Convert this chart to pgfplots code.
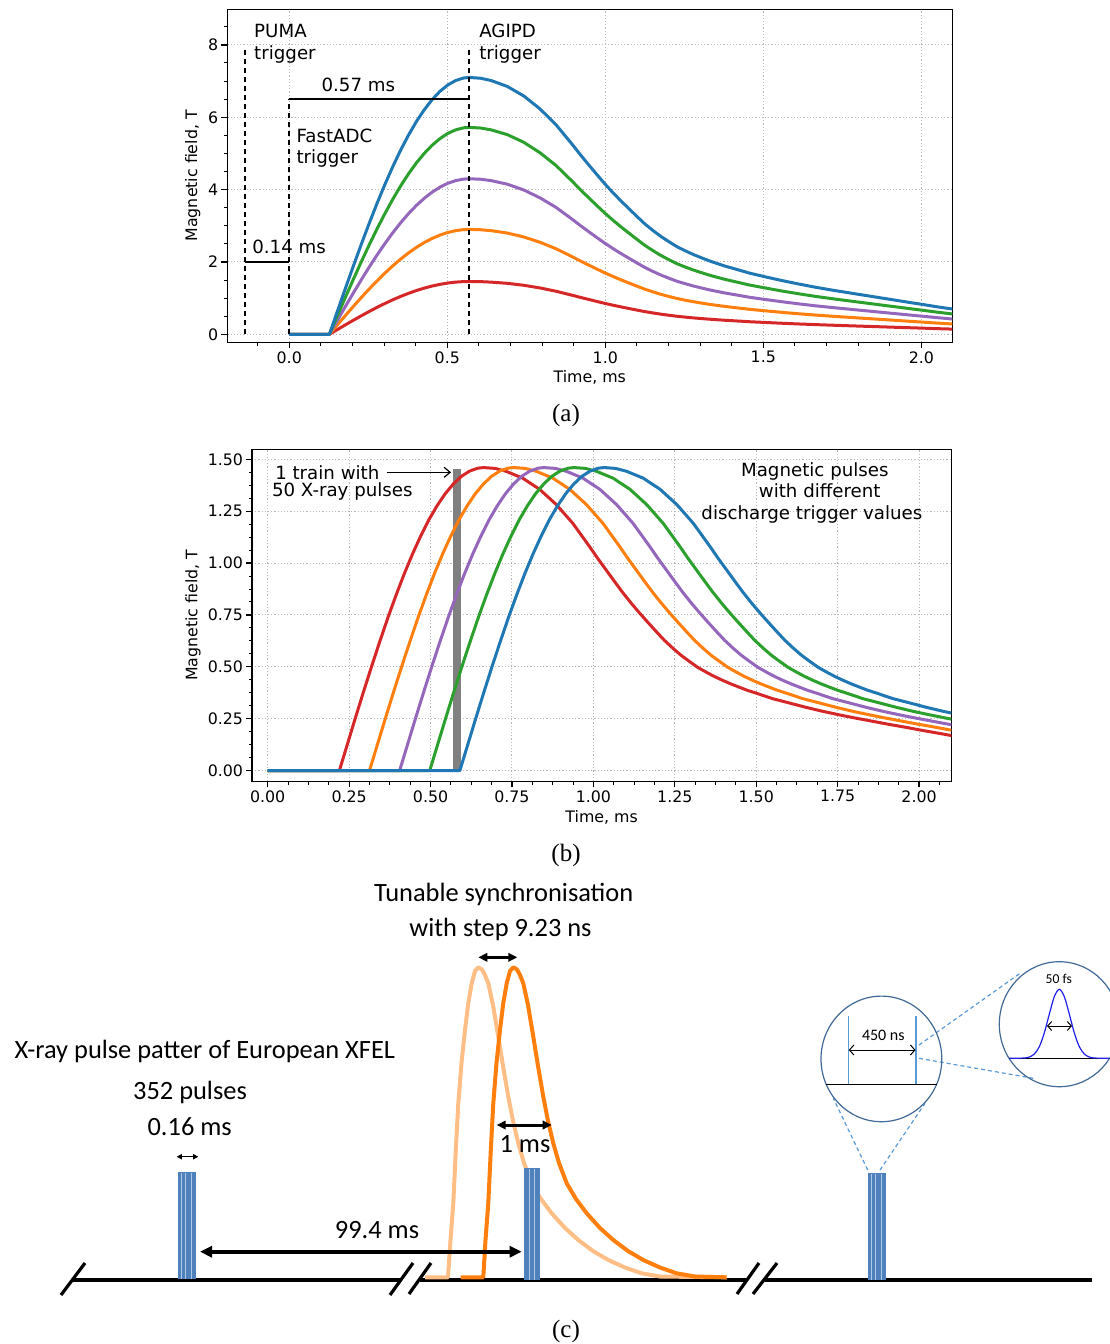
\documentclass[border=0pt]{standalone}
\usepackage{pgfplots}
\usepackage{pgfplotstable}
\pgfplotsset{compat=1.18}
\usetikzlibrary{arrows.meta}
\usepackage{fontspec}
\setmainfont{DejaVu Sans}
\newfontfamily\calfont{Carlito}
\newfontfamily\serfont{Liberation Serif}

\definecolor{mB}{HTML}{1F77B4}
\definecolor{mO}{HTML}{FF7F0E}
\definecolor{mG}{HTML}{2CA02C}
\definecolor{mR}{HTML}{D62728}
\definecolor{mP}{HTML}{9467BD}
\definecolor{dOr}{RGB}{255,127,14}
\definecolor{lOr}{RGB}{255,190,133}
\definecolor{barB}{RGB}{79,129,189}
\definecolor{barL}{RGB}{175,200,230}
\definecolor{circ}{RGB}{65,105,150}
\definecolor{dashB}{RGB}{91,155,213}
\definecolor{gaus}{RGB}{30,30,235}

\pgfplotstableread{
t B G P O R
0 0 0 0 0 0
0.127 0 0 0 0 0
0.152 0.628 0.506 0.381 0.257 0.129
0.177 1.252 1.009 0.759 0.512 0.258
0.202 1.866 1.503 1.130 0.762 0.384
0.227 2.465 1.986 1.493 1.007 0.507
0.252 3.045 2.453 1.844 1.244 0.626
0.277 3.601 2.901 2.181 1.471 0.741
0.302 4.129 3.326 2.500 1.686 0.849
0.327 4.624 3.725 2.800 1.888 0.951
0.352 5.083 4.095 3.078 2.076 1.045
0.377 5.501 4.432 3.332 2.247 1.131
0.402 5.877 4.735 3.560 2.401 1.209
0.427 6.205 4.999 3.758 2.535 1.276
0.452 6.487 5.226 3.929 2.650 1.334
0.477 6.717 5.411 4.068 2.743 1.381
0.502 6.895 5.555 4.176 2.816 1.418
0.527 7.017 5.653 4.250 2.866 1.443
0.552 7.086 5.709 4.291 2.894 1.457
0.570 7.100 5.720 4.300 2.900 1.460
0.605 7.079 5.703 4.287 2.891 1.456
0.639 7.015 5.651 4.248 2.865 1.442
0.690 6.852 5.520 4.150 2.799 1.409
0.742 6.589 5.308 3.990 2.691 1.355
0.793 6.234 5.022 3.775 2.546 1.282
0.844 5.794 4.668 3.509 2.366 1.191
0.895 5.254 4.233 3.182 2.146 1.080
0.920 4.977 4.010 3.014 2.033 1.023
0.946 4.700 3.787 2.847 1.920 0.967
0.972 4.430 3.569 2.683 1.810 0.911
0.997 4.175 3.363 2.528 1.705 0.858
1.023 3.926 3.163 2.378 1.604 0.807
1.049 3.692 2.974 2.236 1.508 0.759
1.074 3.479 2.803 2.107 1.421 0.715
1.100 3.259 2.625 1.974 1.331 0.670
1.125 3.053 2.460 1.849 1.247 0.628
1.151 2.868 2.311 1.737 1.172 0.590
1.176 2.705 2.179 1.638 1.105 0.556
1.202 2.556 2.059 1.548 1.044 0.526
1.227 2.421 1.951 1.466 0.989 0.498
1.253 2.308 1.859 1.398 0.943 0.475
1.278 2.208 1.779 1.337 0.902 0.454
1.304 2.116 1.705 1.281 0.864 0.435
1.329 2.031 1.636 1.230 0.829 0.418
1.355 1.953 1.573 1.183 0.798 0.402
1.380 1.882 1.516 1.140 0.769 0.387
1.406 1.818 1.464 1.101 0.742 0.374
1.457 1.690 1.361 1.023 0.690 0.347
1.509 1.583 1.276 0.959 0.647 0.326
1.560 1.484 1.195 0.899 0.606 0.305
1.611 1.392 1.121 0.843 0.568 0.286
1.662 1.306 1.052 0.791 0.534 0.269
1.713 1.228 0.990 0.744 0.502 0.253
1.764 1.157 0.932 0.701 0.473 0.238
1.815 1.086 0.875 0.658 0.444 0.223
1.866 1.015 0.818 0.615 0.415 0.209
1.917 0.944 0.761 0.572 0.386 0.194
1.968 0.873 0.704 0.529 0.357 0.180
2.000 0.831 0.669 0.503 0.339 0.171
2.050 0.760 0.612 0.460 0.310 0.156
2.100 0.696 0.561 0.421 0.284 0.143
}\tabA

\pgfplotstableread{
tr to tp tg tb y
0 0 0 0 0 0
0.22 0.3125 0.405 0.4975 0.59 0
0.245 0.3375 0.43 0.5225 0.615 0.129
0.27 0.3625 0.455 0.5475 0.64 0.258
0.295 0.3875 0.48 0.5725 0.665 0.384
0.32 0.4125 0.505 0.5975 0.69 0.507
0.345 0.4375 0.53 0.6225 0.715 0.626
0.37 0.4625 0.555 0.6475 0.74 0.741
0.395 0.4875 0.58 0.6725 0.765 0.849
0.42 0.5125 0.605 0.6975 0.79 0.951
0.445 0.5375 0.63 0.7225 0.815 1.045
0.47 0.5625 0.655 0.7475 0.84 1.131
0.495 0.5875 0.68 0.7725 0.865 1.209
0.52 0.6125 0.705 0.7975 0.89 1.276
0.545 0.6375 0.73 0.8225 0.915 1.334
0.57 0.6625 0.755 0.8475 0.94 1.381
0.595 0.6875 0.78 0.8725 0.965 1.418
0.62 0.7125 0.805 0.8975 0.99 1.443
0.645 0.7375 0.83 0.9225 1.015 1.457
0.663 0.7555 0.848 0.9405 1.033 1.460
0.698 0.7905 0.883 0.9755 1.068 1.456
0.732 0.8245 0.917 1.0095 1.102 1.442
0.783 0.8755 0.968 1.0605 1.153 1.409
0.835 0.9275 1.020 1.1125 1.205 1.355
0.886 0.9785 1.071 1.1635 1.256 1.282
0.937 1.0295 1.122 1.2145 1.307 1.191
0.988 1.0805 1.173 1.2655 1.358 1.080
1.013 1.1055 1.198 1.2905 1.383 1.023
1.039 1.1315 1.224 1.3165 1.409 0.967
1.065 1.1575 1.250 1.3425 1.435 0.911
1.090 1.1825 1.275 1.3675 1.460 0.858
1.116 1.2085 1.301 1.3935 1.486 0.807
1.142 1.2345 1.327 1.4195 1.512 0.759
1.167 1.2595 1.352 1.4445 1.537 0.715
1.193 1.2855 1.378 1.4705 1.563 0.670
1.218 1.3105 1.403 1.4955 1.588 0.628
1.244 1.3365 1.429 1.5215 1.614 0.590
1.269 1.3615 1.454 1.5465 1.639 0.556
1.295 1.3875 1.480 1.5725 1.665 0.526
1.320 1.4125 1.505 1.5975 1.690 0.498
1.346 1.4385 1.531 1.6235 1.716 0.475
1.371 1.4635 1.556 1.6485 1.741 0.454
1.397 1.4895 1.582 1.6745 1.767 0.435
1.422 1.5145 1.607 1.6995 1.792 0.418
1.448 1.5405 1.633 1.7255 1.818 0.402
1.473 1.5655 1.658 1.7505 1.843 0.387
1.499 1.5915 1.684 1.7765 1.869 0.374
1.550 1.6425 1.735 1.8275 1.920 0.347
1.602 1.6945 1.787 1.8795 1.972 0.326
1.653 1.7455 1.838 1.9305 2.023 0.305
1.704 1.7965 1.889 1.9815 2.074 0.286
1.755 1.8475 1.940 2.0325 2.125 0.269
1.806 1.8985 1.991 2.0835 2.176 0.253
1.857 1.9495 2.042 2.1345 2.227 0.238
1.908 2.0005 2.093 2.1855 2.278 0.223
1.959 2.0515 2.144 2.2365 2.329 0.209
2.010 2.1025 2.195 2.2875 2.380 0.194
2.061 2.1535 2.246 2.3385 2.431 0.180
2.093 2.1855 2.278 2.3705 2.463 0.171
2.143 2.2355 2.328 2.4205 2.513 0.156
}\tabB

\pgfplotsset{
  mplstyle/.style={
    scale only axis,
    anchor=south west,
    axis line style={line width=0.65pt},
    tick style={black, line width=0.6pt},
    minor tick style={black, line width=0.5pt},
    major tick length=3pt,
    minor tick length=1.75pt,
    tick align=outside,
    tick pos=left,
    grid=major,
    major grid style={dash pattern=on 0.6pt off 1pt, line width=0.5pt, black!28},
    /pgf/number format/assume math mode=true,
    tick label style={font=\fontsize{7.9}{9}\selectfont},
    x tick label style={yshift=2pt},
    y tick label style={xshift=2pt},
    label style={font=\fontsize{7.9}{9}\selectfont},
    xlabel={Time, ms},
    ylabel={Magnetic field, T},
    xlabel style={at={(axis description cs:0.5,-0.104)}, anchor=center},
  },
}
\tikzset{
  ann/.style={font=\fontsize{9.1}{11}\selectfont, inner sep=0pt, anchor=base west},
  annc/.style={font=\fontsize{9.1}{11}\selectfont, inner sep=0pt, anchor=base},
  dsh/.style={black, line width=1.1pt, dash pattern=on 2.8pt off 1.7pt},
  cur/.style={line width=1.5pt, line join=round},
  ctext/.style={font=\calfont\fontsize{13.2}{15}\selectfont, inner sep=0pt, anchor=base},
}

\begin{document}
\begin{tikzpicture}
\useasboundingbox (0,0) rectangle (554.5pt,672pt);

% ---------------- panel (a)
\begin{axis}[mplstyle,
  at={(113.65pt,500.85pt)},
  width=362.5pt, height=166.5pt,
  xmin=-0.196, xmax=2.098, ymin=-0.221, ymax=8.985,
  xtick={0,0.5,1,1.5,2},
  ytick={0,2,4,6,8},
  minor xtick={-0.1,0,...,2.05},
  minor ytick={0,0.5,...,8.6},
  x tick label style={/pgf/number format/.cd, fixed, fixed zerofill, precision=1, /tikz/.cd},
  ylabel style={at={(axis description cs:-0.0475,0.5)}, anchor=center},
]
\addplot[cur, mR] table[x=t, y=R]{\tabA};
\addplot[cur, mO] table[x=t, y=O]{\tabA};
\addplot[cur, mP] table[x=t, y=P]{\tabA};
\addplot[cur, mG] table[x=t, y=G]{\tabA};
\addplot[cur, mB] table[x=t, y=B]{\tabA};
\addplot[dsh] coordinates {(-0.14,0) (-0.14,7.95)};
\addplot[dsh] coordinates {(0,0) (0,6.5)};
\addplot[dsh] coordinates {(0.57,0) (0.57,7.95)};
\addplot[black, line width=1.1pt] coordinates {(-0.14,2) (0,2)};
\addplot[black, line width=1.1pt] coordinates {(0,6.5) (0.57,6.5)};
\node[ann] at (axis cs:-0.112,8.21) {PUMA};
\node[ann] at (axis cs:-0.112,7.60) {trigger};
\node[ann] at (axis cs:0.600,8.21) {AGIPD};
\node[ann] at (axis cs:0.600,7.60) {trigger};
\node[ann] at (axis cs:0.101,6.71) {0.57 ms};
\node[ann] at (axis cs:0.022,5.30) {FastADC};
\node[ann] at (axis cs:0.022,4.73) {trigger};
\node[ann] at (axis cs:-0.118,2.22) {0.14 ms};
\end{axis}

% ---------------- panel (b)
\begin{axis}[mplstyle,
  at={(126pt,281.35pt)},
  width=349.65pt, height=166pt,
  xmin=-0.0482, xmax=2.099, ymin=-0.0511, ymax=1.548,
  xtick={0,0.25,...,2.01},
  ytick={0,0.25,...,1.51},
  minor xtick={0,0.0625,...,2.1},
  minor ytick={0,0.0625,...,1.53},
  x tick label style={/pgf/number format/.cd, fixed, fixed zerofill, precision=2, /tikz/.cd},
  y tick label style={/pgf/number format/.cd, fixed, fixed zerofill, precision=2, /tikz/.cd},
  ylabel style={at={(axis description cs:-0.0845,0.5)}, anchor=center},
  xlabel style={at={(axis description cs:0.5,-0.11)}, anchor=center},
]
\addplot[fill=gray, draw=none] coordinates {(0.570,0) (0.592,0) (0.592,1.452) (0.570,1.452)} -- cycle;
\addplot[cur, mR] table[x=tr, y=y]{\tabB};
\addplot[cur, mO] table[x=to, y=y]{\tabB};
\addplot[cur, mP] table[x=tp, y=y]{\tabB};
\addplot[cur, mG] table[x=tg, y=y]{\tabB};
\addplot[cur, mB] table[x=tb, y=y]{\tabB};
\addplot[black, line width=0.6pt, -{Straight Barb[length=3pt,width=5pt]}] coordinates {(0.365,1.437) (0.563,1.437)};
\node[ann] at (axis cs:0.022,1.404) {1 train with};
\node[ann] at (axis cs:0.012,1.323) {50 X-ray pulses};
\node[annc] at (axis cs:1.680,1.416) {Magnetic pulses};
\node[annc] at (axis cs:1.695,1.315) {with different};
\node[annc] at (axis cs:1.671,1.212) {discharge trigger values};
\end{axis}

% ---------------- overlay: captions and panel (c), pixel coordinates
\begin{axis}[
  at={(0pt,0pt)}, anchor=south west, scale only axis,
  width=554.5pt, height=672pt,
  xmin=0, xmax=1109, ymin=0, ymax=1344, y dir=reverse,
  hide axis, clip=false,
]
\node[font=\serfont\fontsize{12.5}{14}\selectfont, inner sep=0pt] at (axis cs:566,415) {(a)};
\node[font=\serfont\fontsize{12.5}{14}\selectfont, inner sep=0pt] at (axis cs:566,855) {(b)};
\node[font=\serfont\fontsize{12.5}{14}\selectfont, inner sep=0pt] at (axis cs:566,1331) {(c)};

% baseline segments and break marks
\addplot[black, line width=1.6pt] coordinates {(71.7,1280) (400,1280)};
\addplot[black, line width=1.6pt] coordinates {(420,1280) (747,1280)};
\addplot[black, line width=1.6pt] coordinates {(765,1280) (1091.7,1280)};
\addplot[black, line width=1.6pt] coordinates {(61,1295) (85,1263)};
\addplot[black, line width=1.6pt] coordinates {(390,1295) (413,1263)};
\addplot[black, line width=1.6pt] coordinates {(409,1294) (431,1263)};
\addplot[black, line width=1.6pt] coordinates {(737,1294) (759,1263)};
\addplot[black, line width=1.6pt] coordinates {(753,1294) (777,1263)};

% light orange pulse
\addplot[lOr, line width=2pt, line join=round] coordinates {(425,1277.3) (448,1277.3) (450.5,1240) (453.3,1203.3) (455.8,1150) (458.3,1103.3) (461.5,1063) (465,1030) (468.3,1003) (471.7,983.3) (475,971) (478.3,967.3) (482,969.5) (485,975) (488.3,983.3) (493,1005) (498.3,1036.7) (503,1066) (508.3,1096.7) (513,1121) (518.3,1143.3) (524,1163) (531.7,1183.3) (541,1199) (551.7,1213.3) (565,1228) (578.3,1240) (593,1251) (608.3,1260) (625,1267.5) (641.7,1273.3) (660,1276.5) (726.7,1277.3)};
% dark orange pulse
\addplot[dOr, line width=2pt, line join=round] coordinates {(460.7,1277.3) (483.3,1277.3) (485.5,1240) (488.3,1203.3) (490.8,1150) (493.3,1103.3) (496.5,1063) (500,1030) (503.3,1003) (506.7,983.3) (510,971) (513.3,967.3) (517,969.5) (520,975) (523.3,983.3) (528,1005) (533.3,1036.7) (538,1066) (543.3,1096.7) (548,1121) (553.3,1143.3) (559,1163) (566.7,1183.3) (576,1199) (586.7,1213.3) (600,1228) (613.3,1240) (628,1251) (643.3,1260) (660,1267.5) (676.7,1273.3) (695,1276.5) (726.7,1277.3)};

% pulse trains (blue bars)
\addplot[fill=barB, draw=none] coordinates {(178.3,1279.3) (195.7,1279.3) (195.7,1172.3) (178.3,1172.3)} -- cycle;
\addplot[barL, line width=0.35pt] coordinates {(181.5,1279) (181.5,1172.5)};
\addplot[barL, line width=0.35pt] coordinates {(185.5,1279) (185.5,1172.5)};
\addplot[barL, line width=0.35pt] coordinates {(191,1279) (191,1172.5)};
\addplot[fill=barB, draw=none] coordinates {(524,1280) (540,1280) (540,1168.3) (524,1168.3)} -- cycle;
\addplot[barL, line width=0.35pt] coordinates {(529,1279.5) (529,1168.5)};
\addplot[barL, line width=0.35pt] coordinates {(534.5,1279.5) (534.5,1168.5)};
\addplot[fill=barB, draw=none] coordinates {(868.3,1280) (886,1280) (886,1173.3) (868.3,1173.3)} -- cycle;
\addplot[barL, line width=0.35pt] coordinates {(871.5,1279.5) (871.5,1173.5)};
\addplot[barL, line width=0.35pt] coordinates {(875.5,1279.5) (875.5,1173.5)};
\addplot[barL, line width=0.35pt] coordinates {(881,1279.5) (881,1173.5)};

% arrows
\addplot[black, line width=2pt, {Triangle[length=6pt,width=5.5pt]}-{Triangle[length=6pt,width=5.5pt]}] coordinates {(200,1251.7) (521.7,1251.7)};
\addplot[black, line width=1.5pt, {Triangle[length=4.5pt,width=4.2pt]}-{Triangle[length=4.5pt,width=4.2pt]}] coordinates {(478.3,957.3) (517.3,957.3)};
\addplot[black, line width=1.5pt, {Triangle[length=4.5pt,width=4.2pt]}-{Triangle[length=4.5pt,width=4.2pt]}] coordinates {(496.7,1125) (551.7,1125)};
\addplot[black, line width=0.7pt, {Triangle[length=2.6pt,width=2.6pt]}-{Triangle[length=2.6pt,width=2.6pt]}] coordinates {(176.7,1156.7) (198.3,1156.7)};

% zoom dashed lines
\addplot[dashB, line width=0.6pt, dash pattern=on 2pt off 1.5pt] coordinates {(867.7,1170) (833.3,1098.3)};
\addplot[dashB, line width=0.6pt, dash pattern=on 2pt off 1.5pt] coordinates {(880,1170) (925,1103.3)};
\addplot[dashB, line width=0.6pt, dash pattern=on 2pt off 1.5pt] coordinates {(919,1045) (1020,973.3)};
\addplot[dashB, line width=0.6pt, dash pattern=on 2pt off 1.5pt] coordinates {(919,1058.3) (1033.3,1078.3)};

% zoom circle 1
\draw[circ, line width=0.6pt] (axis cs:881.4,1058.9) ellipse [x radius=30.2pt, y radius=31.4pt];
\addplot[black, line width=0.6pt] coordinates {(826,1084.3) (936.7,1084.3)};
\addplot[dashB, line width=0.7pt] coordinates {(848.3,1084.3) (848.3,1016)};
\addplot[dashB, line width=0.7pt] coordinates {(916,1084.3) (916,1016)};
\addplot[black, line width=0.5pt, {Straight Barb[length=2.2pt,width=5pt]}-{Straight Barb[length=2.2pt,width=5pt]}] coordinates {(848.8,1050) (915.5,1050)};
\node[font=\calfont\fontsize{8}{9}\selectfont, inner sep=0pt, anchor=base] at (axis cs:883.3,1040) {450 ns};

% zoom circle 2
\draw[circ, line width=0.6pt] (axis cs:1059.3,1024.2) ellipse [x radius=30pt, y radius=31.25pt];
\addplot[black, line width=0.6pt] coordinates {(1009.3,1058.3) (1109,1058.3)};
\addplot[gaus, line width=0.6pt, smooth] coordinates {(1009.3,1058.3) (1024.3,1058.0) (1029.3,1057.0) (1034.3,1054.0) (1039.3,1046.7) (1044.3,1032.9) (1049.3,1014.1) (1054.3,996.6) (1059.3,989.3) (1064.3,996.6) (1069.3,1014.1) (1074.3,1032.9) (1079.3,1046.7) (1084.3,1054.0) (1089.3,1057.0) (1094.3,1058.0) (1109,1058.3)};
\addplot[black, line width=0.5pt, {Straight Barb[length=2pt,width=4.5pt]}-{Straight Barb[length=2pt,width=4.5pt]}] coordinates {(1047,1026) (1072,1026)};
\node[font=\calfont\fontsize{6.8}{8}\selectfont, inner sep=0pt, anchor=base] at (axis cs:1058.8,983.3) {50 fs};

% texts of panel (c)
\node[ctext] at (axis cs:503.7,901.7) {Tunable synchronisation};
\node[ctext] at (axis cs:500.5,936.7) {with step 9.23 ns};
\node[ctext] at (axis cs:204.9,1058.3) {X-ray pulse patter of European XFEL};
\node[ctext] at (axis cs:190,1099.3) {352 pulses};
\node[ctext] at (axis cs:189.7,1135) {0.16 ms};
\node[ctext] at (axis cs:525,1152.7) {1 ms};
\node[ctext] at (axis cs:377,1238.3) {99.4 ms};
\end{axis}
\end{tikzpicture}
\end{document}
